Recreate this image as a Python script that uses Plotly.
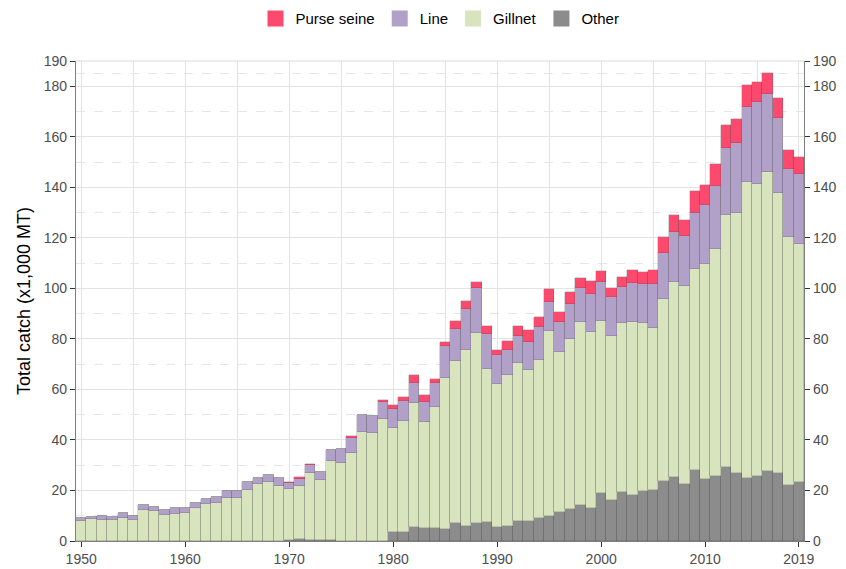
import plotly.graph_objects as go

years = list(range(1950, 2020))

other = [0, 0, 0, 0, 0, 0, 0, 0, 0, 0,
         0, 0, 0, 0, 0, 0, 0, 0, 0, 0,
         0.3, 0.6, 0.5, 0.4, 0.3, 0, 0, 0, 0, 0,
         3.6, 3.6, 5.4, 5.0, 5.3, 4.8, 7.0, 5.9, 7.0, 7.4,
         5.4, 6.1, 7.9, 7.8, 9.1, 9.8, 11.6, 12.6, 14.1, 13.1,
         19.0, 16.3, 19.3, 18.2, 19.6, 20.2, 23.8, 25.5, 22.6, 28.2,
         24.6, 25.8, 29.2, 26.8, 25.1, 25.8, 27.9, 27.1, 22.2, 23.3]

gillnet = [7.9, 8.7, 8.3, 8.3, 9.3, 8.3, 12.3, 11.9, 10.4, 10.8,
           11.1, 13.1, 14.5, 15.2, 17.2, 17.1, 20.2, 22.5, 23.3, 21.8,
           20.2, 21.0, 26.6, 23.7, 31.2, 30.8, 34.8, 43.1, 42.6, 48.4,
           41.0, 44.0, 49.1, 42.3, 47.6, 59.6, 64.4, 69.6, 75.4, 60.8,
           56.7, 59.6, 62.6, 60.0, 62.4, 73.5, 63.2, 67.5, 72.4, 69.5,
           68.0, 65.0, 66.9, 68.5, 66.7, 64.2, 72.1, 77.1, 78.3, 79.6,
           85.0, 89.6, 100.0, 103.2, 117.0, 115.4, 118.2, 110.8, 98.1, 94.1]

line = [1.2, 0.95, 1.5, 1.35, 1.7, 1.6, 1.8, 1.7, 1.9, 2.2,
        1.9, 2.1, 2.3, 2.3, 2.5, 2.5, 3.1, 2.6, 2.9, 3.1,
        2.6, 3.0, 2.8, 3.1, 4.6, 5.6, 5.8, 6.6, 6.9, 6.5,
        7.8, 7.9, 7.9, 7.6, 9.5, 12.7, 12.4, 16.3, 17.7, 13.8,
        11.5, 10.1, 10.6, 11.0, 13.1, 11.2, 11.7, 13.9, 13.7, 15.2,
        15.5, 15.2, 14.3, 15.5, 15.6, 17.4, 18.2, 19.7, 19.8, 22.2,
        23.3, 25.0, 26.4, 27.7, 29.8, 32.7, 30.8, 29.4, 26.9, 27.8]

purse_seine = [0, 0, 0, 0, 0, 0, 0, 0, 0, 0,
               0, 0, 0, 0, 0, 0, 0, 0, 0, 0,
               0.4, 0.7, 0.6, 0.3, 0, 0, 0.8, 0.1, 0.1, 0.8,
               1.5, 1.4, 3.3, 2.9, 1.9, 1.7, 3.2, 3.1, 2.4, 3.3,
               1.9, 3.3, 4.2, 4.6, 4.1, 5.3, 4.2, 4.5, 4.0, 5.1,
               4.3, 3.7, 4.1, 5.0, 4.7, 5.6, 6.2, 6.7, 6.4, 8.6,
               7.9, 9.0, 9.1, 9.3, 8.6, 7.9, 8.3, 7.9, 7.6, 6.9]

series_names = ["Purse seine", "Line", "Gillnet", "Other"]
series_colors = ["#FC4A6E", "#B1A1C8", "#D7E4BE", "#8C8C8C"]

y_tickvals = [0, 20, 40, 60, 80, 100, 120, 140, 160, 180, 190]
y_minorvals = [10, 30, 50, 70, 90, 110, 130, 150, 170, 185]
x_tickvals = [1950, 1960, 1970, 1980, 1990, 2000, 2010, 2019]
x_minorvals = [1955, 1965, 1975, 1985, 1995, 2005, 2015]

fig = go.Figure()
outline = dict(color="rgba(70,70,70,0.35)", width=0.6)
stack = [("Other", other, series_colors[3]),
         ("Gillnet", gillnet, series_colors[2]),
         ("Line", line, series_colors[1]),
         ("Purse seine", purse_seine, series_colors[0])]
for name, vals, col in stack:
    fig.add_trace(go.Bar(x=years, y=vals, name=name, width=1,
                         marker=dict(color=col, line=outline),
                         showlegend=False))

# legend entries (order as in the reference)
for name, col in zip(series_names, series_colors):
    fig.add_trace(go.Scatter(x=[None], y=[None], mode="markers", name=name,
                             marker=dict(symbol="square", size=20, color=col),
                             showlegend=True))

# invisible trace for right axis
fig.add_trace(go.Scatter(x=[years[0]], y=[0], yaxis="y2", mode="markers",
                         marker=dict(opacity=0), showlegend=False, hoverinfo="skip"))

tickfont = dict(family="Liberation Sans, Arial, sans-serif", size=14, color="#4D4D4D")
grid = "#E3E3E3"

fig.update_layout(
    width=846, height=569,
    barmode="stack", bargap=0,
    plot_bgcolor="white", paper_bgcolor="white",
    margin=dict(l=76, r=42, t=61, b=28, autoexpand=False),
    font=dict(family="Liberation Sans, Arial, sans-serif", color="#000000"),
    legend=dict(orientation="h", x=0.5, xanchor="center", y=1.088, yanchor="middle",
                font=dict(size=15, color="#000000"), itemsizing="trace",
                traceorder="normal", tracegroupgap=0),
    xaxis=dict(range=[1949.5, 2019.5], tickvals=x_tickvals, ticks="outside",
               ticklen=5, tickcolor="#333333", tickwidth=1,
               showline=True, linecolor="#7F7F7F", linewidth=1.2,
               showgrid=True, gridcolor=grid, gridwidth=1.2,
               tickfont=tickfont, zeroline=False,
               minor=dict(tickvals=x_minorvals, showgrid=True, gridcolor=grid,
                          gridwidth=1.2, ticks="")),
    yaxis=dict(range=[0, 190], tickvals=y_tickvals, ticks="outside",
               ticklen=5, tickcolor="#333333", tickwidth=1,
               showline=True, linecolor="#7F7F7F", linewidth=1.2,
               showgrid=True, gridcolor=grid, gridwidth=1.2,
               tickfont=tickfont, zeroline=False,
               title=dict(text="Total catch (x1,000 MT)",
                          font=dict(size=18, color="#000000"), standoff=8),
               minor=dict(tickvals=y_minorvals, showgrid=True, gridcolor="#E6E6E6",
                          griddash="dash", gridwidth=1, ticks="")),
    yaxis2=dict(range=[0, 190], tickvals=y_tickvals, overlaying="y", side="right",
                ticks="outside", ticklen=5, tickcolor="#333333", tickwidth=1,
                showline=True, linecolor="#7F7F7F", linewidth=1.2,
                showgrid=False, zeroline=False, tickfont=tickfont),
)

fig.add_shape(type="line", xref="paper", yref="paper", x0=0, x1=1, y0=1, y1=1,
              line=dict(color="#D9D9D9", width=1.2))

fig.write_html("out.html", config={"displayModeBar": False},
               post_script="document.body.style.margin='0';")
